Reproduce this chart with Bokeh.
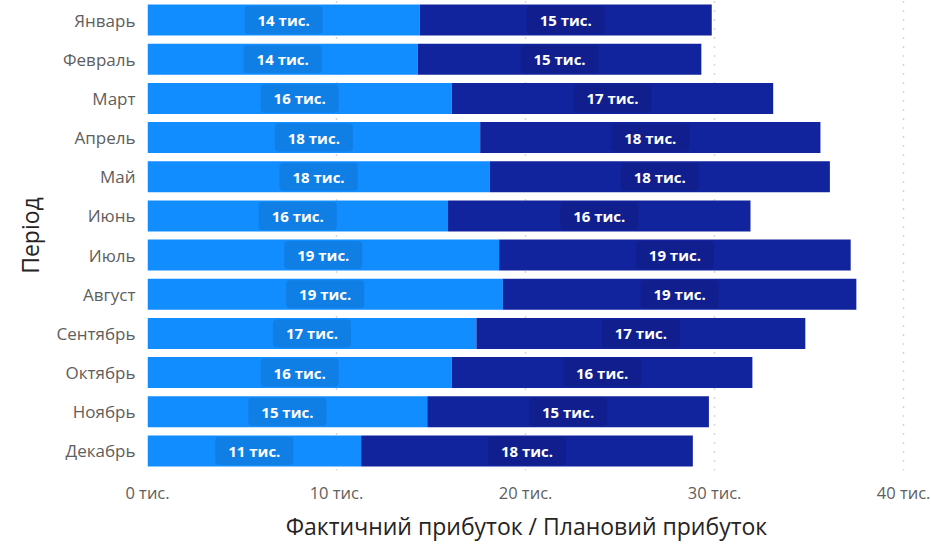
from bokeh.plotting import figure
from bokeh.models import ColumnDataSource, FactorRange, Range1d, FixedTicker
from bokeh.core.properties import value
from bokeh.embed import file_html
from bokeh.resources import INLINE

months = ["Январь", "Февраль", "Март", "Апрель", "Май", "Июнь", "Июль",
          "Август", "Сентябрь", "Октябрь", "Ноябрь", "Декабрь"]
actual = [14.4, 14.3, 16.1, 17.6, 18.1, 15.9, 18.6, 18.8, 17.4, 16.1, 14.8, 11.3]
plan = [15.45, 15.0, 17.0, 18.0, 18.0, 16.0, 18.6, 18.7, 17.4, 15.9, 14.9, 17.55]
x_ticks = [0, 10, 20, 30, 40]
x_tick_labels = ["0 тис.", "10 тис.", "20 тис.", "30 тис.", "40 тис."]

LIGHT = "#118DFF"
DARK = "#12239E"
FONT = "Open Sans"

source = ColumnDataSource(dict(month=months, actual=actual, plan=plan))

p = figure(width=931, height=544, output_backend="svg", toolbar_location=None,
           y_range=FactorRange(factors=list(reversed(months))),
           x_range=Range1d(0, 40.1),
           min_border_left=147, min_border_right=26, min_border_top=0, min_border_bottom=60)
p.outline_line_color = None
p.background_fill_color = "white"

p.hbar_stack(["actual", "plan"], y="month", height=0.79, color=[LIGHT, DARK], source=source,
             line_color=None)

# labels
lab_x, lab_y, lab_t = [], [], []
for m, a, pl in zip(months, actual, plan):
    lab_x.append(a / 2); lab_y.append(m); lab_t.append(f"{a:.0f} тис.")
    lab_x.append(a + pl / 2); lab_y.append(m); lab_t.append(f"{pl:.0f} тис.")
lsrc = ColumnDataSource(dict(x=lab_x, y=lab_y, t=lab_t))
p.text(x="x", y="y", text="t", source=lsrc, text_align="center", text_baseline="middle",
       text_color="white", text_font=value(FONT), text_font_style="bold", text_font_size="15px",
       background_fill_color="black", background_fill_alpha=0.1, padding=(13, 4), border_radius=4)

# axes
p.xaxis.ticker = FixedTicker(ticks=x_ticks)
p.xaxis.major_label_overrides = {t: l for t, l in zip(x_ticks, x_tick_labels)}
for ax in (p.xaxis[0], p.yaxis[0]):
    ax.axis_line_color = None
    ax.major_tick_line_color = None
    ax.minor_tick_line_color = None
    ax.major_tick_out = 0
    ax.major_tick_in = 0
    ax.major_label_text_font = FONT
    ax.major_label_text_color = "#605E5C"
    ax.axis_label_text_font = FONT
    ax.axis_label_text_font_size = "23px"
    ax.axis_label_text_font_style = "normal"
    ax.axis_label_text_color = "#252423"
p.xaxis.major_label_text_font_size = "16.5px"
p.yaxis.major_label_text_font_size = "17px"
p.xaxis.major_label_standoff = 10
p.xaxis.axis_label = "Фактичний прибуток / Плановий прибуток"
p.xaxis.axis_label_standoff = 3
p.yaxis.major_label_standoff = 12
p.yaxis.axis_label = "Період"
p.yaxis.axis_label_standoff = 8

p.ygrid.visible = False
p.xgrid.grid_line_color = "#B0B0B0"
p.xgrid.grid_line_dash = "1 8"
p.xgrid.grid_line_width = 1.5

open("out.html", "w").write(file_html(p, INLINE))
